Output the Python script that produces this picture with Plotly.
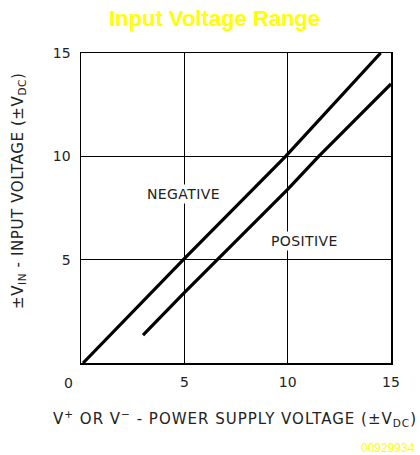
import plotly.graph_objects as go

neg_x = [0.1, 5.0, 9.9, 14.5]
neg_y = [0.0, 5.05, 10.0, 15.0]
pos_x = [3.0, 5.0, 10.0, 11.5, 15.0]
pos_y = [1.35, 3.4, 8.4, 10.0, 13.5]
tick_vals = [5, 10, 15]
tick_text = ["5", "10", "15"]

FONT = "DejaVu Sans, sans-serif"
TXT = "#222222"


def spaced(s, ls):
    return '<span style="letter-spacing:%spx">%s</span>' % (ls, s)


fig = go.Figure()
fig.add_trace(go.Scatter(x=neg_x, y=neg_y, mode="lines",
                         line=dict(color="black", width=3.2), showlegend=False, hoverinfo="skip"))
fig.add_trace(go.Scatter(x=pos_x, y=pos_y, mode="lines",
                         line=dict(color="black", width=3.2), showlegend=False, hoverinfo="skip"))

axis_common = dict(range=[0, 15], showgrid=True, gridcolor="black", gridwidth=1,
                   showline=True, linecolor="black", linewidth=1.5, mirror=True,
                   zeroline=False, ticks="", tickfont=dict(family=FONT, size=14, color=TXT),
                   fixedrange=True, automargin=False)

fig.update_xaxes(tickvals=tick_vals, ticktext=tick_text, ticklabelstandoff=6, **axis_common)
fig.update_yaxes(tickvals=tick_vals, ticktext=tick_text, ticklabelstandoff=6, **axis_common)

W, H = 420, 455
L, R, T, B = 81, 29, 53, 92
pw, ph = W - L - R, H - T - B


def px(xp):
    return (xp - L) / pw


def py(yp):
    return (H - B - yp) / ph


fig.add_annotation(x=px(235), y=py(418), xref="paper", yref="paper",
                   text=spaced("V<sup>+</sup> OR V<sup>−</sup> - POWER SUPPLY VOLTAGE (±V<sub>DC</sub>)", 1),
                   showarrow=False, xanchor="center", yanchor="middle",
                   font=dict(family=FONT, size=15, color=TXT))
fig.add_annotation(x=px(18), y=py(191), xref="paper", yref="paper",
                   text=spaced("±V<sub>IN</sub> - INPUT VOLTAGE (±V<sub>DC</sub>)", 0.6), textangle=-90,
                   showarrow=False, xanchor="center", yanchor="middle",
                   font=dict(family=FONT, size=15, color=TXT))
fig.add_annotation(x=px(68), y=py(383), xref="paper", yref="paper", text="0", showarrow=False,
                   xanchor="center", yanchor="middle", font=dict(family=FONT, size=14, color=TXT))
fig.add_annotation(x=4.95, y=8.2, xref="x", yref="y", text=spaced("NEGATIVE", 0.4), showarrow=False,
                   bgcolor="white", font=dict(family=FONT, size=14, color=TXT))
fig.add_annotation(x=10.8, y=5.88, xref="x", yref="y", text=spaced("POSITIVE", 0.4), showarrow=False,
                   bgcolor="white", font=dict(family=FONT, size=14, color=TXT))
fig.add_annotation(x=px(417), y=py(448), xref="paper", yref="paper", xanchor="right", yanchor="middle",
                   text="00929934", showarrow=False,
                   font=dict(family="Arial, Liberation Sans, sans-serif", size=12, color="#FFFF00"))
fig.add_annotation(x=px(214), y=py(18), xref="paper", yref="paper", xanchor="center", yanchor="middle",
                   text="<b>Input Voltage Range</b>", showarrow=False,
                   font=dict(family="Arial, Liberation Sans, sans-serif", size=22, color="#FFFF00"))

fig.update_layout(
    width=W, height=H,
    margin=dict(l=L, r=R, t=T, b=B, autoexpand=False),
    paper_bgcolor="white", plot_bgcolor="white",
)

fig.write_html("out.html", config={"displayModeBar": False, "staticPlot": True},
               post_script="document.body.style.margin='0px';document.body.style.overflow='hidden';")
